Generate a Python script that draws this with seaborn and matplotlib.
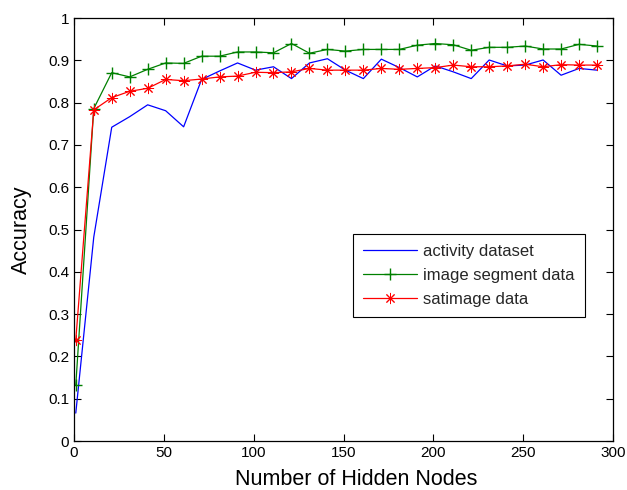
import numpy as np
import pandas as pd
import seaborn as sns
import matplotlib
matplotlib.use("Agg")
import matplotlib.pyplot as plt

hidden_nodes = list(range(1, 300, 10))
activity = [0.066, 0.482, 0.742, 0.767, 0.795, 0.781, 0.743, 0.855, 0.875, 0.894,
            0.877, 0.885, 0.857, 0.894, 0.904, 0.877, 0.857, 0.903, 0.883, 0.861,
            0.887, 0.873, 0.857, 0.901, 0.887, 0.889, 0.901, 0.865, 0.881, 0.877]
image_segment = [0.132, 0.786, 0.871, 0.861, 0.879, 0.894, 0.893, 0.910, 0.910, 0.920,
                 0.920, 0.918, 0.940, 0.917, 0.926, 0.922, 0.926, 0.926, 0.926, 0.936,
                 0.940, 0.937, 0.924, 0.931, 0.931, 0.934, 0.927, 0.927, 0.938, 0.934]
satimage = [0.239, 0.783, 0.812, 0.827, 0.834, 0.855, 0.852, 0.856, 0.861, 0.863,
            0.872, 0.871, 0.873, 0.881, 0.877, 0.877, 0.877, 0.881, 0.879, 0.881,
            0.883, 0.889, 0.885, 0.885, 0.887, 0.891, 0.885, 0.890, 0.889, 0.889]
series_names = ["activity dataset", "image segment data", "satimage data"]
x_ticks = [0, 50, 100, 150, 200, 250, 300]
y_ticks = [0, 0.1, 0.2, 0.3, 0.4, 0.5, 0.6, 0.7, 0.8, 0.9, 1]

sns.set_theme(style="ticks")
plt.rcParams["font.family"] = ["Liberation Sans", "DejaVu Sans"]

fig = plt.figure(figsize=(6.27, 4.90), dpi=100)
ax = fig.add_axes([0.118, 0.10, 0.860, 0.863])

df = pd.DataFrame({"x": hidden_nodes, "activity": activity,
                   "image": image_segment, "sat": satimage})

blue, green, red = (0, 0, 1), (0, 0.5, 0), (1, 0, 0)
sns.lineplot(data=df, x="x", y="activity", ax=ax, color=blue, lw=0.9,
             label=series_names[0])
sns.lineplot(data=df, x="x", y="image", ax=ax, color=green, lw=0.9,
             marker="+", markersize=9, markeredgewidth=1.0,
             markeredgecolor=green, label=series_names[1])
sns.lineplot(data=df, x="x", y="sat", ax=ax, color=red, lw=0.9,
             marker=(8, 2, 0), markersize=8, markeredgewidth=0.7,
             markeredgecolor=red, label=series_names[2])

ax.set_xlim(0, 300)
ax.set_ylim(0, 1)
ax.set_xticks(x_ticks)
ax.set_xticklabels([str(t) for t in x_ticks])
ax.set_yticks(y_ticks)
ax.set_yticklabels(["0", "0.1", "0.2", "0.3", "0.4", "0.5", "0.6", "0.7", "0.8", "0.9", "1"])
ax.tick_params(direction="in", length=5, width=0.8, labelsize=11, colors="black",
               top=True, right=True)
for s in ax.spines.values():
    s.set_visible(True)
    s.set_color("black")
    s.set_linewidth(0.9)
ax.set_xlabel("Number of Hidden Nodes", fontsize=15.5, color="black")
ax.set_ylabel("Accuracy", fontsize=15.5, color="black")
ax.xaxis.set_label_coords(0.524, -0.066)
ax.yaxis.set_label_coords(-0.078, 0.5)

leg = ax.legend(loc="lower left", bbox_to_anchor=(0.518, 0.293), fontsize=12,
                frameon=True, fancybox=False, edgecolor="black", framealpha=1,
                handlelength=3.2, borderpad=0.6, labelspacing=0.55, numpoints=1,
                borderaxespad=0, handletextpad=0.4)
leg.get_frame().set_linewidth(0.8)

fig.savefig("out.png", dpi=100)
